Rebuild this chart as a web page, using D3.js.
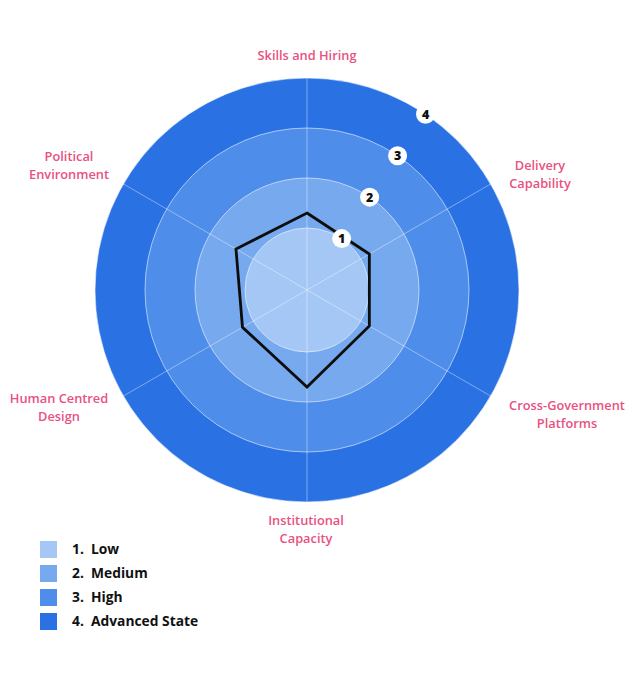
<!DOCTYPE html>
<html>
<head>
<meta charset="utf-8">
<script src="https://cdn.jsdelivr.net/npm/d3@7"></script>
<style>
  body { margin: 0; background: #fff; }
  svg { display: block; }
  text { font-family: "Open Sans", "Noto Sans", sans-serif; }
</style>
</head>
<body>
<svg id="chart" width="644" height="680"></svg>
<script>
// ---- data ----
const axes = ["Skills and Hiring", "Delivery Capability", "Cross-Government Platforms",
              "Institutional Capacity", "Human Centred Design", "Political Environment"];
const axisLabelLines = [["Skills and Hiring"], ["Delivery", "Capability"], ["Cross-Government", "Platforms"],
                        ["Institutional", "Capacity"], ["Human Centred", "Design"], ["Political", "Environment"]];
const scores = [1.3, 1.2, 1.2, 1.7, 1.25, 1.4];
const levels = [1, 2, 3, 4];
const levelNames = ["Low", "Medium", "High", "Advanced State"];
const levelColors = ["#a4c7f5", "#77a9ef", "#4e8eea", "#2a72e3"];

// ---- layout ----
const svg = d3.select("#chart");
const cx = 307, cy = 290;
const r = d3.scaleLinear().domain([0, 4]).range([12, 212]);
const angle = d3.scaleLinear().domain([0, axes.length]).range([0, 2 * Math.PI]);
const g = svg.append("g").attr("transform", `translate(${cx},${cy})`);

// rings (largest first)
g.selectAll("circle.ring").data(levels.slice().reverse()).join("circle")
  .attr("class", "ring")
  .attr("r", d => r(d))
  .attr("fill", d => levelColors[d - 1])
  .attr("stroke", "rgba(255,255,255,0.55)")
  .attr("stroke-width", 1);

// spokes
g.selectAll("line.spoke").data(axes).join("line")
  .attr("class", "spoke")
  .attr("x1", 0).attr("y1", 0)
  .attr("x2", (d, i) => r(4) * Math.sin(angle(i)))
  .attr("y2", (d, i) => -r(4) * Math.cos(angle(i)))
  .attr("stroke", "rgba(255,255,255,0.4)")
  .attr("stroke-width", 1);

// score polygon
const line = d3.lineRadial()
  .angle((d, i) => angle(i))
  .radius(d => r(d))
  .curve(d3.curveLinearClosed);
g.append("path")
  .datum(scores)
  .attr("d", line)
  .attr("fill", "none")
  .attr("stroke", "#0d0d0d")
  .attr("stroke-width", 2.8)
  .attr("stroke-linejoin", "miter");

// level badges
const badgeAngle = 34 * Math.PI / 180;
const badges = g.selectAll("g.badge").data(levels).join("g")
  .attr("class", "badge")
  .attr("transform", d => `translate(${r(d) * Math.sin(badgeAngle)},${-r(d) * Math.cos(badgeAngle)})`);
badges.append("circle").attr("r", 9.5).attr("fill", "#fff");
badges.append("text")
  .attr("text-anchor", "middle").attr("dy", "0.36em")
  .attr("font-size", 12.5).attr("font-weight", 800).attr("fill", "#111")
  .text(d => d);

// axis labels
const labelPos = [[307, 56], [540, 166], [567, 406], [306, 521], [59, 399], [69, 157]];
svg.selectAll("text.axis").data(axisLabelLines).join("text")
  .attr("class", "axis")
  .attr("text-anchor", "middle")
  .attr("font-size", 12.8).attr("font-weight", 600).attr("fill", "#e9517f")
  .attr("x", (d, i) => labelPos[i][0])
  .attr("y", (d, i) => labelPos[i][1])
  .each(function(d, i) {
    d3.select(this).selectAll("tspan").data(d).join("tspan")
      .attr("x", labelPos[i][0])
      .attr("dy", (t, j) => j === 0 ? "0.35em" : "1.4em")
      .text(t => t);
  });

// legend
const legend = svg.append("g").attr("transform", "translate(40,541)");
const items = legend.selectAll("g").data(levels).join("g")
  .attr("transform", (d, i) => `translate(0,${i * 24})`);
items.append("rect").attr("width", 17).attr("height", 17)
  .attr("fill", d => levelColors[d - 1]);
items.append("text")
  .attr("x", 32).attr("y", 8.5).attr("dy", "0.35em")
  .attr("font-size", 13.8).attr("font-weight", 700).attr("fill", "#111")
  .text((d, i) => `${d}.\u00a0 ${levelNames[i]}`);
</script>
</body>
</html>
